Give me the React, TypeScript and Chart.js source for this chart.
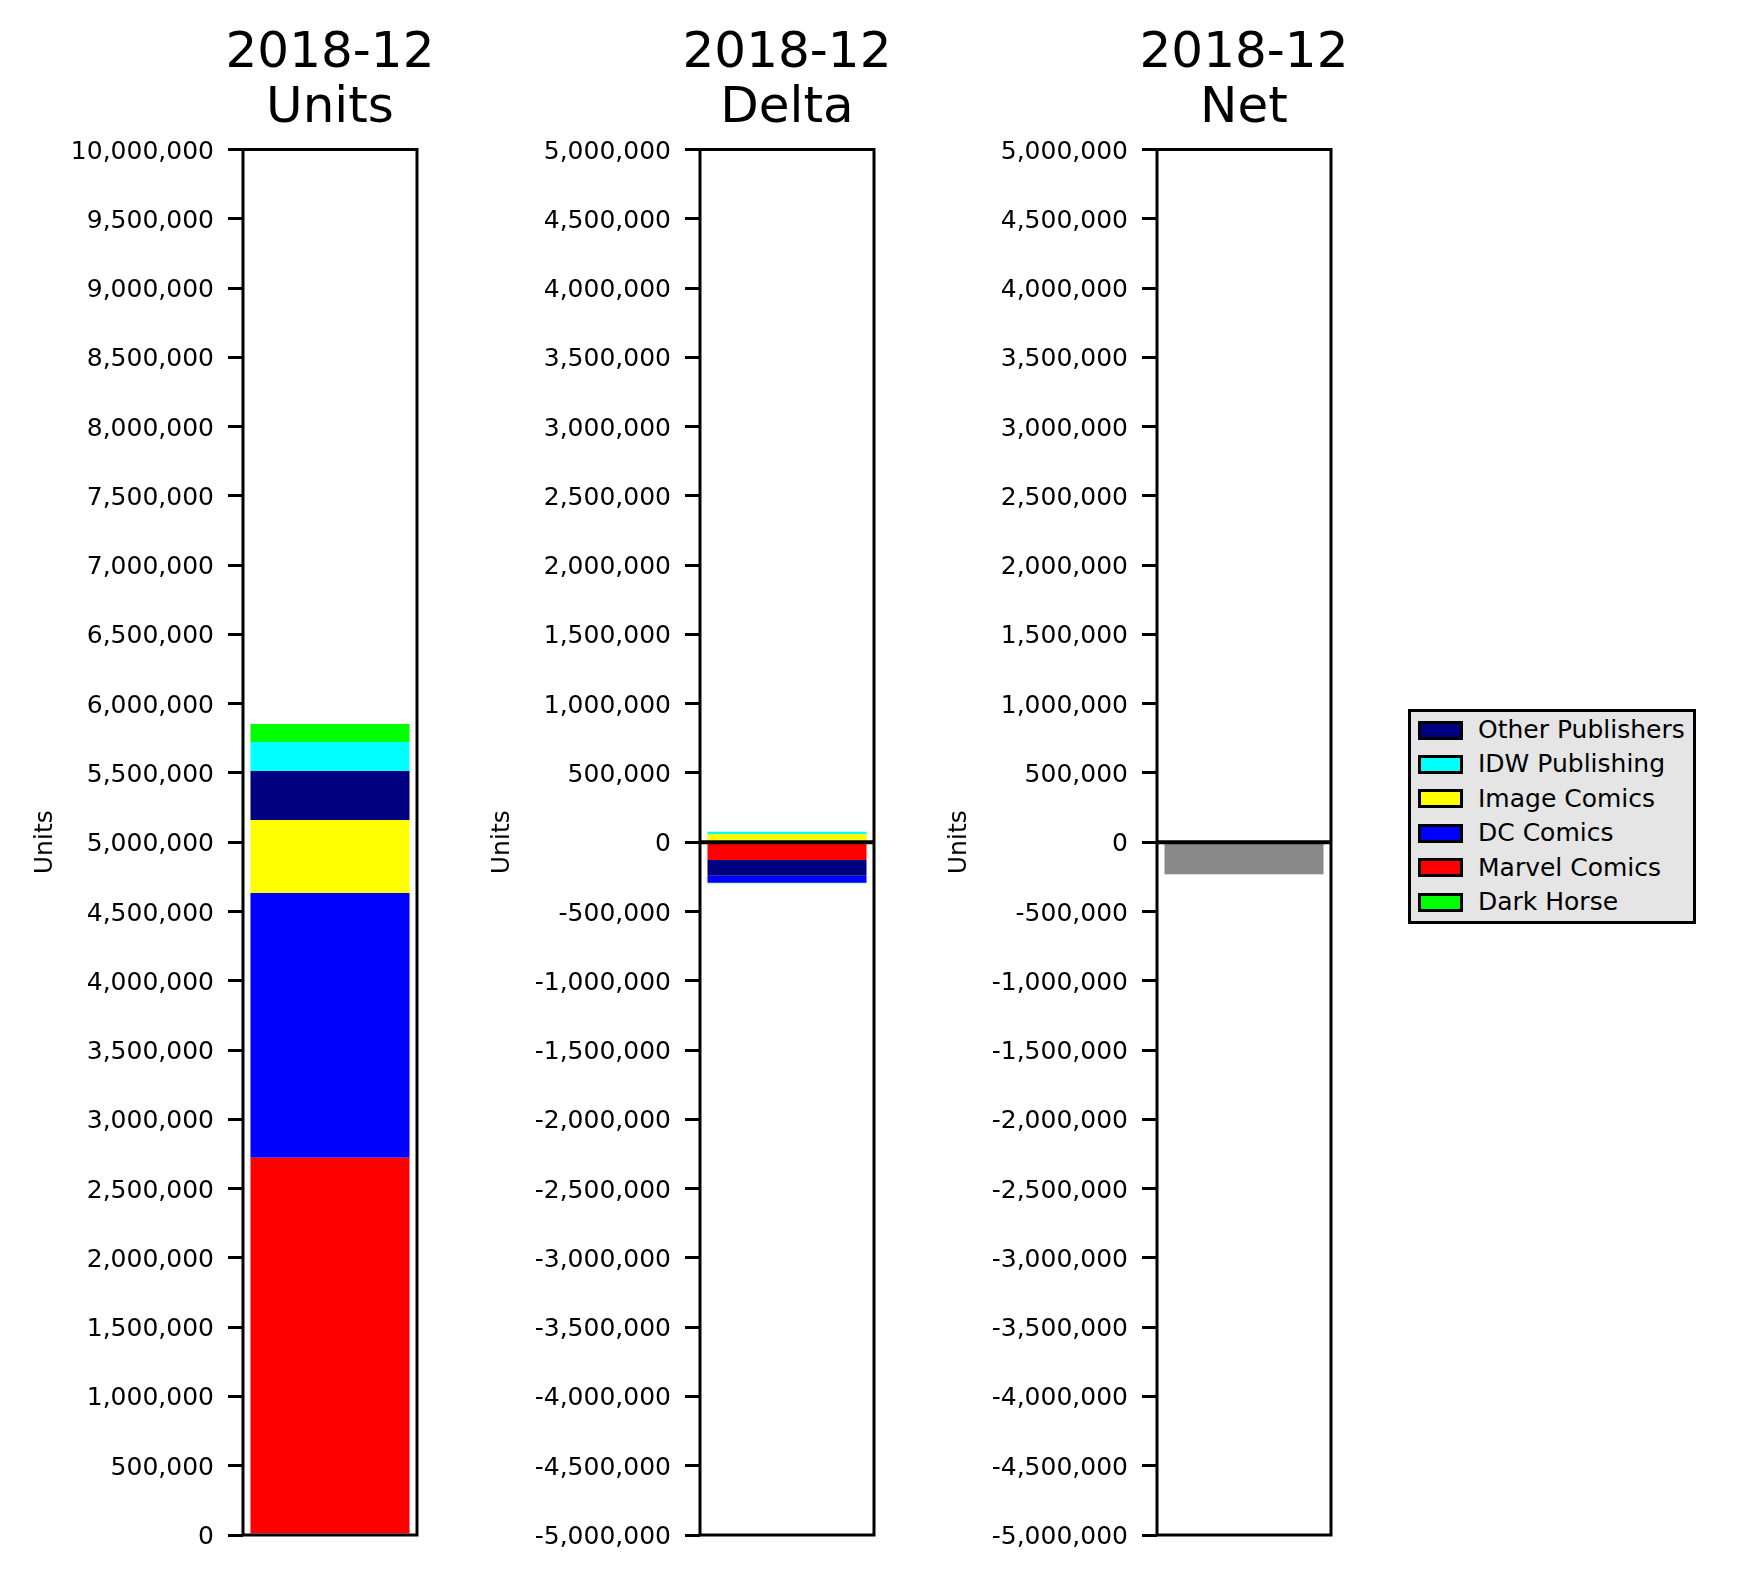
import React, { useEffect, useRef } from "react";
import { Chart, registerables } from "chart.js";

Chart.register(...registerables);

// ---- data ----
const periodLabel = "2018-12";
const publishers = [
  "Other Publishers",
  "IDW Publishing",
  "Image Comics",
  "DC Comics",
  "Marvel Comics",
  "Dark Horse",
];
const publisherColors = ["#000080", "#00FFFF", "#FFFF00", "#0000FF", "#FF0000", "#00FF00"];
const unitValues = [354000, 209000, 527000, 1910000, 2723000, 130000];
const deltaValues = [-113000, 15000, 60000, -50500, -128000, -5000];
const netValues = [-231000];
const netColor = "#898989";
// dataset drawing order (index into publishers)
const unitsStackOrder = [4, 3, 2, 0, 1, 5];
const deltaStackOrder = [4, 2, 0, 1, 3, 5];
const unitsRange = [0, 10000000];
const deltaRange = [-5000000, 5000000];
const tickStep = 500000;

const FONT = "'DejaVu Sans', sans-serif";

const framePlugin = {
  id: "frame",
  afterDatasetsDraw(chart: any, _args: any, opts: any) {
    const { ctx, chartArea: a, scales } = chart;
    ctx.save();
    ctx.strokeStyle = "#000";
    if (opts && opts.zeroLine) {
      const y = scales.y.getPixelForValue(0);
      ctx.lineWidth = 4;
      ctx.beginPath();
      ctx.moveTo(a.left, y);
      ctx.lineTo(a.right, y);
      ctx.stroke();
    }
    ctx.lineWidth = 3;
    ctx.strokeRect(a.left, a.top, a.right - a.left, a.bottom - a.top);
    ctx.restore();
  },
};

const AXIS_W = 243;
const PLOT_W = 174;
const CANVAS_W = AXIS_W * 2 + PLOT_W;
const CANVAS_H = 1579;

function makeConfig(title: string, datasets: any[], range: number[], zeroLine: boolean) {
  return {
    type: "bar",
    data: { labels: [periodLabel], datasets },
    options: {
      responsive: false,
      animation: false,
      devicePixelRatio: 1,
      layout: {
        padding: { top: 26.5, bottom: CANVAS_H - 1535, left: 0, right: 0 },
      },
      plugins: {
        legend: { display: false },
        tooltip: { enabled: false },
        title: {
          display: true,
          text: [periodLabel, title],
          color: "#000",
          font: { family: FONT, size: 50, weight: "normal", lineHeight: 1.1 },
          padding: { top: 0, bottom: 13 },
        },
        frame: { zeroLine },
      },
      datasets: {
        bar: { barPercentage: 0.914, categoryPercentage: 1.0, borderWidth: 0 },
      },
      scales: {
        x: { stacked: true, display: false },
        y: {
          stacked: true,
          position: "left",
          min: range[0],
          max: range[1],
          afterFit: (s: any) => {
            s.width = AXIS_W;
          },
          ticks: {
            stepSize: tickStep,
            autoSkip: false,
            color: "#000",
            padding: 14,
            labelOffset: 2.5,
            font: { family: FONT, size: 25 },
            callback: (v: any) => Number(v).toLocaleString("en-US"),
          },
          grid: {
            drawOnChartArea: false,
            drawTicks: true,
            tickLength: 15,
            color: "#000",
            lineWidth: 3,
          },
          border: { display: false },
          title: {
            display: true,
            text: "Units",
            color: "#000",
            font: { family: FONT, size: 25 },
            padding: { top: 30, bottom: 0 },
          },
        },
        // invisible spacer on the right so the title centres over the plot
        spacer: {
          type: "linear",
          position: "right",
          min: range[0],
          max: range[1],
          ticks: { display: false },
          grid: { display: false },
          border: { display: false },
          afterFit: (s: any) => {
            s.width = AXIS_W;
          },
        },
      },
    },
    plugins: [framePlugin],
  };
}

function ChartCanvas({ config, left }: { config: any; left: number }) {
  const ref = useRef<HTMLCanvasElement | null>(null);
  useEffect(() => {
    if (!ref.current) return;
    const chart = new Chart(ref.current, config);
    return () => chart.destroy();
  }, [config]);
  return (
    <canvas
      ref={ref}
      width={CANVAS_W}
      height={CANVAS_H}
      style={{ position: "absolute", left, top: 0, width: CANVAS_W, height: CANVAS_H }}
    />
  );
}

const unitsDatasets = unitsStackOrder.map((i) => ({
  label: publishers[i],
  data: [unitValues[i]],
  backgroundColor: publisherColors[i],
}));
const deltaDatasets = deltaStackOrder.map((i) => ({
  label: publishers[i],
  data: [deltaValues[i]],
  backgroundColor: publisherColors[i],
}));
const netDatasets = [{ label: "Net", data: netValues, backgroundColor: netColor }];

const unitsConfig = makeConfig("Units", unitsDatasets, unitsRange, false);
const deltaConfig = makeConfig("Delta", deltaDatasets, deltaRange, true);
const netConfig = makeConfig("Net", netDatasets, deltaRange, true);

function Legend() {
  const rowPitch = 34.4;
  return (
    <div
      style={{
        position: "absolute",
        left: 1408,
        top: 709,
        width: 288,
        height: 215,
        boxSizing: "border-box",
        border: "3px solid #000",
        background: "#e5e5e5",
        fontFamily: FONT,
        fontSize: 25,
        color: "#000",
      }}
    >
      {publishers.map((p, i) => (
        <div
          key={p}
          style={{
            position: "absolute",
            left: 7,
            top: 1 + i * rowPitch,
            height: 34,
            display: "flex",
            alignItems: "center",
            whiteSpace: "nowrap",
          }}
        >
          <div
            style={{
              width: 45,
              height: 19,
              boxSizing: "border-box",
              border: "3px solid #000",
              background: publisherColors[i],
              marginRight: 15,
            }}
          />
          <span style={{ lineHeight: "34px" }}>{p}</span>
        </div>
      ))}
    </div>
  );
}

export default function App() {
  return (
    <div style={{ position: "absolute", left: 0, top: 0, width: 1737, height: 1579, background: "#fff" }}>
      <ChartCanvas config={unitsConfig} left={0} />
      <ChartCanvas config={deltaConfig} left={457} />
      <ChartCanvas config={netConfig} left={914} />
      <Legend />
    </div>
  );
}
